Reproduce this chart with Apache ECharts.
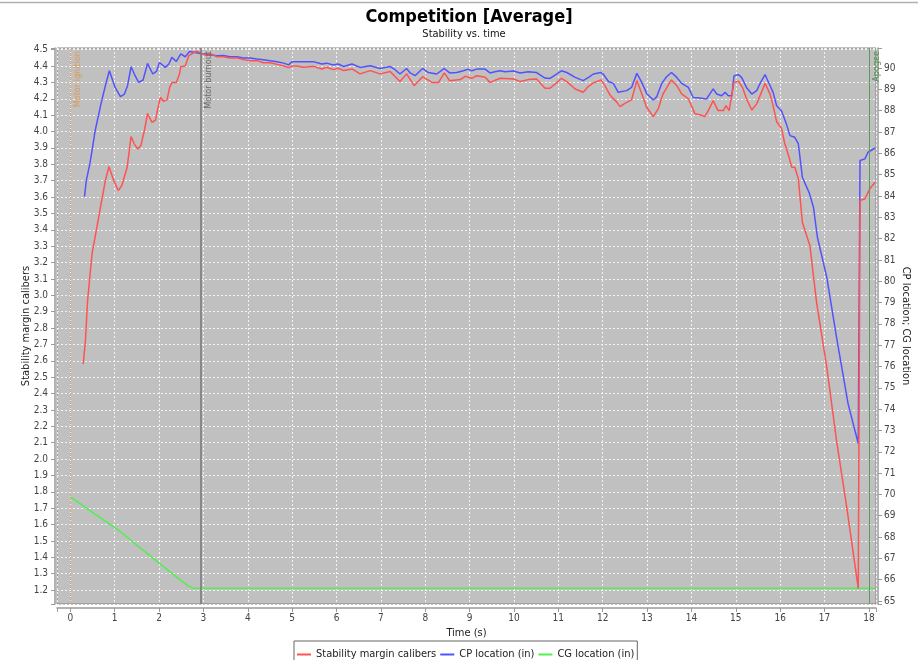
<!DOCTYPE html>
<html>
<head>
<meta charset="utf-8">
<script src="https://cdn.jsdelivr.net/npm/echarts@6/dist/echarts.min.js"></script>
<style>
html,body{margin:0;padding:0;background:#fff;}
#chart{width:918px;height:660px;}
</style>
</head>
<body>
<div id="chart"></div>
<script>
// Flight simulation: stability margin and CP/CG location over time
const stabilityTime = [0.29,0.34,0.39,0.49,0.60,0.68,0.79,0.87,0.98,1.08,1.16,1.28,1.37,1.44,1.52,1.59,1.67,1.74,1.84,1.92,1.97,2.03,2.10,2.18,2.24,2.29,2.39,2.46,2.49,2.59,2.67,2.74,2.85,2.97,3.08,3.15,3.30,3.45,3.60,3.76,3.90,4.05,4.21,4.35,4.51,4.66,4.81,4.92,5.00,5.11,5.26,5.48,5.67,5.78,5.93,6.04,6.16,6.35,6.53,6.76,6.98,7.21,7.43,7.58,7.75,7.94,8.15,8.30,8.43,8.55,8.79,8.90,9.05,9.16,9.35,9.46,9.69,9.99,10.14,10.32,10.51,10.70,10.81,10.96,11.07,11.19,11.38,11.56,11.68,11.79,11.96,12.05,12.16,12.32,12.39,12.50,12.65,12.77,12.88,12.99,13.14,13.25,13.36,13.55,13.67,13.78,13.93,14.08,14.19,14.30,14.38,14.49,14.60,14.72,14.78,14.85,14.96,15.06,15.15,15.24,15.36,15.47,15.66,15.77,15.84,15.92,16.03,16.10,16.20,16.26,16.33,16.41,16.50,16.67,16.82,17.05,17.27,17.50,17.76,17.80,17.91,18.02,18.14];
const stabilityCal = [2.58,2.72,2.97,3.255,3.416,3.538,3.70,3.786,3.70,3.64,3.67,3.78,3.97,3.925,3.894,3.914,4.006,4.11,4.056,4.07,4.138,4.209,4.185,4.193,4.27,4.30,4.30,4.35,4.396,4.40,4.463,4.474,4.49,4.477,4.463,4.477,4.457,4.457,4.449,4.449,4.439,4.432,4.433,4.42,4.42,4.41,4.40,4.39,4.40,4.40,4.392,4.398,4.382,4.392,4.378,4.386,4.372,4.382,4.352,4.372,4.352,4.366,4.305,4.352,4.28,4.335,4.30,4.30,4.358,4.31,4.317,4.337,4.325,4.341,4.331,4.30,4.325,4.321,4.305,4.317,4.321,4.264,4.264,4.297,4.325,4.305,4.26,4.24,4.276,4.297,4.315,4.28,4.225,4.178,4.152,4.172,4.193,4.311,4.23,4.148,4.091,4.138,4.23,4.315,4.28,4.23,4.20,4.108,4.103,4.091,4.128,4.189,4.128,4.128,4.158,4.128,4.30,4.307,4.27,4.20,4.132,4.169,4.294,4.23,4.158,4.06,4.02,3.93,3.843,3.782,3.782,3.711,3.446,3.304,2.958,2.562,2.114,1.707,1.21,3.579,3.589,3.65,3.69];

const cpTime = [0.32,0.36,0.44,0.49,0.56,0.69,0.79,0.88,1.01,1.13,1.22,1.29,1.37,1.46,1.54,1.64,1.74,1.86,1.94,2.01,2.14,2.22,2.29,2.39,2.49,2.59,2.69,2.82,2.93,3.04,3.15,3.30,3.45,3.60,3.76,3.90,4.05,4.21,4.35,4.51,4.66,4.81,4.92,5.00,5.11,5.26,5.48,5.67,5.78,5.93,6.04,6.16,6.35,6.53,6.76,6.98,7.21,7.32,7.43,7.58,7.66,7.77,7.94,8.07,8.26,8.43,8.55,8.71,8.86,8.97,9.05,9.16,9.35,9.46,9.57,9.69,9.80,9.99,10.14,10.32,10.51,10.70,10.81,10.96,11.07,11.19,11.38,11.56,11.68,11.79,11.96,12.01,12.13,12.24,12.35,12.54,12.65,12.77,12.88,12.99,13.14,13.22,13.33,13.44,13.55,13.67,13.78,13.93,14.04,14.19,14.34,14.49,14.57,14.68,14.76,14.83,14.91,14.96,15.06,15.13,15.24,15.36,15.47,15.56,15.66,15.73,15.84,15.92,16.03,16.14,16.22,16.33,16.41,16.50,16.65,16.75,16.84,17.05,17.27,17.53,17.76,17.80,17.91,17.98,18.14];
const cpInches = [83.97,84.72,85.5,86.13,87.06,88.31,89.17,89.87,89.09,88.66,88.78,89.17,90.06,89.64,89.33,89.44,90.22,89.72,89.84,90.26,90.03,90.19,90.5,90.31,90.66,90.53,90.78,90.73,90.68,90.66,90.62,90.58,90.59,90.53,90.53,90.47,90.47,90.42,90.39,90.34,90.30,90.23,90.15,90.30,90.30,90.30,90.30,90.19,90.23,90.14,90.19,90.07,90.19,90.03,90.11,89.98,90.07,89.92,89.72,89.98,89.77,89.64,89.98,89.79,89.72,89.98,89.77,89.79,89.87,89.95,89.87,89.95,89.95,89.77,89.83,89.87,89.83,89.86,89.77,89.83,89.79,89.53,89.51,89.72,89.87,89.79,89.56,89.41,89.56,89.72,89.79,89.72,89.37,89.28,88.86,88.94,89.09,89.75,89.33,88.81,88.50,88.66,89.28,89.59,89.79,89.56,89.28,89.09,88.62,88.59,88.55,89.02,88.78,88.70,88.86,88.70,88.70,89.64,89.69,89.56,89.09,88.78,88.94,89.33,89.69,89.37,88.86,88.23,88.00,87.38,86.83,86.75,86.44,84.88,84.17,83.47,82.05,80.19,77.38,74.26,72.39,85.66,85.74,86.05,86.25];

const cgTime = [0,0.5,1.13,1.8,2.48,2.65,2.78,18.14];
const cgInches = [69.89,69.16,68.25,67.12,65.98,65.72,65.60,65.60];

// Flight events drawn as vertical markers
const eventNames = ['Motor ignition','Motor burnout','Apogee'];
const eventTimes = [0, 2.94, 18.0];
const eventColors = ['#e6a35f','#7a7a7a','#5f9a5f'];
const eventTextColors = ['#d99a58','#6a6a6a','#4f8f4f'];
const eventLineTypes = ['dotted','solid','solid'];
const eventLineWidths = [1,1.6,1];

const pairs = (xs, ys) => xs.map((x, i) => [x, ys[i]]);

const FONT = '"DejaVu Sans Condensed", "DejaVu Sans", sans-serif';
const axisGrey = '#9a9a9a';
const gridLine = { show: true, lineStyle: { color: 'rgba(255,255,255,0.8)', type: [2, 2], width: 1 } };

const onStep = (v, step) => Math.abs(v / step - Math.round(v / step)) < 1e-6;

const chart = echarts.init(document.getElementById('chart'), null, { renderer: 'canvas' });

chart.setOption({
  animation: false,
  backgroundColor: '#ffffff',
  textStyle: { fontFamily: FONT },
  title: [
    {
      text: 'Competition [Average]',
      left: 464, top: 3, textAlign: 'center',
      textStyle: { fontFamily: FONT, fontSize: 18, fontWeight: 'bold', color: '#000' }
    },
    {
      text: 'Stability vs. time',
      left: 459, top: 24, textAlign: 'center',
      textStyle: { fontFamily: FONT, fontSize: 11, fontWeight: 'normal', color: '#111' }
    }
  ],
  graphic: [
    { type: 'line', shape: { x1: 0, y1: 2.5, x2: 918, y2: 2.5 }, style: { stroke: '#b0b0b0', lineWidth: 1.5 }, silent: true }
  ],
  legend: {
    left: 294, top: 641,
    padding: [8, 3, 6, 3],
    itemGap: 4, itemWidth: 14, itemHeight: 2,
    icon: 'rect',
    borderColor: '#666', borderWidth: 1,
    backgroundColor: '#fff',
    textStyle: { fontFamily: FONT, fontSize: 11, color: '#222' },
    data: ['Stability margin calibers', 'CP location (in)', 'CG location (in)']
  },
  grid: {
    left: 57, right: 42, top: 48, bottom: 56,
    outerBoundsMode: 'none', containLabel: false,
    show: true, backgroundColor: '#c0c0c0', borderColor: '#858585', borderWidth: 1
  },
  xAxis: {
    type: 'value', min: -0.3, max: 18.16, splitNumber: 18,
    offset: 4,
    name: 'Time (s)', nameLocation: 'middle', nameGap: 17,
    nameTextStyle: { fontFamily: FONT, fontSize: 11, color: '#222' },
    axisLine: { show: true, onZero: false, lineStyle: { color: axisGrey, width: 1.5 } },
    axisTick: { show: true, length: 4, lineStyle: { color: axisGrey } },
    axisLabel: { margin: 5, fontSize: 10, color: '#444', fontFamily: FONT,
      formatter: v => onStep(v, 1) ? String(Math.round(v)) : '' },
    splitLine: gridLine
  },
  yAxis: [
    {
      type: 'value', position: 'left', min: 1.115, max: 4.51, splitNumber: 34,
      offset: 2,
      name: 'Stability margin calibers', nameLocation: 'middle', nameRotate: 90, nameGap: 23,
      nameMoveOverlap: false,
      nameTextStyle: { fontFamily: FONT, fontSize: 11, color: '#222' },
      axisLine: { show: true, onZero: false, lineStyle: { color: axisGrey, width: 1.5 } },
      axisTick: { show: true, length: 4, lineStyle: { color: axisGrey } },
      axisLabel: { margin: 7, fontSize: 10, color: '#444', fontFamily: FONT,
        formatter: v => onStep(v, 0.1) ? v.toFixed(1) : '' },
      splitLine: gridLine
    },
    {
      type: 'value', position: 'right', min: 64.86, max: 90.94, splitNumber: 26,
      offset: 2,
      name: 'CP location; CG location', nameLocation: 'middle', nameRotate: -90, nameGap: 22,
      nameMoveOverlap: false,
      nameTextStyle: { fontFamily: FONT, fontSize: 11, color: '#222' },
      axisLine: { show: true, onZero: false, lineStyle: { color: axisGrey, width: 1.5 } },
      axisTick: { show: true, length: 4, lineStyle: { color: axisGrey } },
      axisLabel: { margin: 6, fontSize: 10, color: '#444', fontFamily: FONT,
        formatter: v => onStep(v, 1) ? String(Math.round(v)) : '' },
      splitLine: { show: false }
    }
  ],
  series: [
    {
      name: 'Stability margin calibers', type: 'line', yAxisIndex: 0,
      data: pairs(stabilityTime, stabilityCal),
      showSymbol: false, symbol: 'none', z: 4,
      lineStyle: { color: '#ff5252', width: 1.5 }, itemStyle: { color: '#ff5252' }
    },
    {
      name: 'CP location (in)', type: 'line', yAxisIndex: 1,
      data: pairs(cpTime, cpInches),
      showSymbol: false, symbol: 'none', z: 3,
      lineStyle: { color: '#5252ff', width: 1.5 }, itemStyle: { color: '#5252ff' }
    },
    {
      name: 'CG location (in)', type: 'line', yAxisIndex: 1,
      data: pairs(cgTime, cgInches),
      showSymbol: false, symbol: 'none', z: 2,
      lineStyle: { color: '#52ee52', width: 1.5 }, itemStyle: { color: '#52ee52' },
      markLine: {
        silent: true, symbol: 'none', animation: false,
        label: { show: true, position: 'insideEndBottom', fontSize: 9, fontFamily: FONT, distance: 3, formatter: '{b}' },
        data: eventNames.map((n, i) => ({
          name: n, xAxis: eventTimes[i],
          lineStyle: { color: eventColors[i], type: eventLineTypes[i], width: eventLineWidths[i] },
          label: { color: eventTextColors[i] }
        }))
      }
    }
  ]
});
</script>
</body>
</html>
